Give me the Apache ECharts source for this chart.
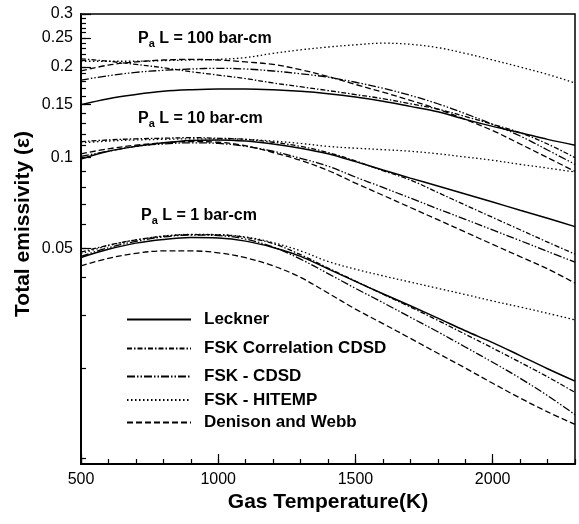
<!DOCTYPE html>
<html><head><meta charset="utf-8">
<script src="https://cdn.jsdelivr.net/npm/echarts@6/dist/echarts.min.js"></script>
<style>html,body{margin:0;padding:0;background:#fff}#c{width:579px;height:524px}</style>
</head><body><div id="c"></div>
<script>
// ---- data ----
const temps = [500,600,700,800,900,1000,1100,1200,1300,1400,1500,1600,1700,1800,1900,2000,2100,2200,2300];

// PaL = 100 bar-cm
const leckner100 = [0.150,0.157,0.162,0.166,0.168,0.169,0.169,0.168,0.166,0.163,0.159,0.154,0.148,0.142,0.134,0.127,0.121,0.115,0.110];
const corr100    = [0.213,0.209,0.204,0.199,0.193,0.188,0.183,0.177,0.172,0.167,0.162,0.157,0.151,0.145,0.137,0.129,0.121,0.111,0.100];
const cdsd100    = [0.181,0.187,0.192,0.195,0.197,0.198,0.197,0.194,0.190,0.185,0.178,0.170,0.161,0.151,0.140,0.129,0.118,0.106,0.095];
const hitemp100  = [0.209,0.209,0.209,0.210,0.211,0.212,0.215,0.222,0.228,0.233,0.237,0.240,0.238,0.232,0.222,0.211,0.200,0.189,0.177];
const dw100      = [0.194,0.203,0.208,0.211,0.212,0.211,0.208,0.204,0.196,0.186,0.175,0.165,0.155,0.145,0.134,0.123,0.111,0.100,0.090];

// PaL = 10 bar-cm
const leckner10 = [0.099,0.105,0.109,0.112,0.1140,0.1145,0.1135,0.111,0.1075,0.103,0.097,0.091,0.0855,0.0805,0.0757,0.0712,0.0669,0.0629,0.0590];
const corr10    = [0.113,0.1145,0.1155,0.116,0.1165,0.116,0.115,0.1125,0.109,0.104,0.0975,0.0905,0.0843,0.0766,0.0696,0.0633,0.0576,0.0524,0.0478];
const cdsd10    = [0.101,0.105,0.109,0.111,0.112,0.1115,0.109,0.105,0.0995,0.0937,0.0862,0.0796,0.0734,0.0676,0.0624,0.0575,0.0530,0.0488,0.0450];
const hitemp10  = [0.112,0.1135,0.1145,0.115,0.1155,0.1155,0.115,0.1135,0.1115,0.109,0.1075,0.1063,0.105,0.103,0.1005,0.098,0.095,0.0923,0.0896];
const dw10      = [0.103,0.107,0.110,0.112,0.113,0.1125,0.1095,0.104,0.098,0.0907,0.0823,0.0750,0.0683,0.0622,0.0566,0.0515,0.0469,0.0427,0.0383];

// PaL = 1 bar-cm
const leckner1 = [0.0466,0.0496,0.0520,0.0535,0.0543,0.0541,0.0528,0.0503,0.0470,0.0427,0.0388,0.0353,0.0322,0.0293,0.0266,0.0243,0.0220,0.0199,0.0181];
const corr1    = [0.0485,0.0512,0.0533,0.0548,0.0555,0.0554,0.0543,0.0518,0.0476,0.0430,0.0389,0.0352,0.0319,0.0288,0.0259,0.0233,0.0209,0.0187,0.0166];
const cdsd1    = [0.0470,0.0502,0.0527,0.0545,0.0553,0.0551,0.0536,0.0505,0.0460,0.0412,0.0368,0.0330,0.0295,0.0264,0.0235,0.0209,0.0185,0.0162,0.0140];
const hitemp1  = [0.0480,0.0510,0.0533,0.0549,0.0556,0.0555,0.0545,0.0522,0.0490,0.0452,0.0426,0.0405,0.0386,0.0368,0.0351,0.0334,0.0319,0.0304,0.0289];
const dw1      = [0.0437,0.0463,0.0481,0.0490,0.0490,0.0483,0.0465,0.0437,0.0400,0.0355,0.0314,0.0281,0.0251,0.0224,0.0200,0.0178,0.0159,0.0143,0.0130];

const seriesNames = ['Leckner','FSK Correlation CDSD','FSK - CDSD','FSK - HITEMP','Denison and Webb'];
const groupLabels = ['100 bar-cm','10 bar-cm','1 bar-cm'];

const yMajorTicks = [0.05,0.1,0.15,0.2,0.25,0.3];
const yMinorTicks = [0.01,0.02,0.03,0.04,0.05,0.06,0.07,0.08,0.09,0.1,0.11,0.12,0.13,0.14,0.15,0.16,0.17,0.18,0.19,0.2,0.21,0.22,0.23,0.24,0.25,0.26,0.27,0.28,0.29,0.3];
const xMajorTicks = [500,1000,1500,2000];

// ---- styling ----
const FONT = '"Liberation Sans", Arial, Helvetica, sans-serif';
const dashOf = {
  'Leckner': 'solid',
  'FSK Correlation CDSD': [5,2,1.5,2],
  'FSK - CDSD': [8,2,1.5,2,1.5,2],
  'FSK - HITEMP': [1.5,2.5],
  'Denison and Webb': [6,3]
};
const groups = [
  [leckner100, corr100, cdsd100, hitemp100, dw100],
  [leckner10, corr10, cdsd10, hitemp10, dw10],
  [leckner1, corr1, cdsd1, hitemp1, dw1]
];

const series = [];
groups.forEach(g => {
  g.forEach((vals, k) => {
    const name = seriesNames[k];
    series.push({
      name: name,
      type: 'line',
      xAxisIndex: 0, yAxisIndex: 0,
      data: temps.map((t, i) => [t, vals[i]]),
      smooth: 0.35,
      symbol: 'none',
      showSymbol: false,
      silent: true,
      itemStyle: {color: '#000'},
      lineStyle: {color: '#000', width: name === 'Leckner' ? 1.5 : 1.3, type: dashOf[name], cap: 'butt'},
      emphasis: {disabled: true}
    });
  });
});

const legendTops = [311, 340, 368, 391.5, 414];
const legends = seriesNames.map((n, i) => ({
  data: [n],
  left: 126, top: legendTops[i],
  padding: 0,
  orient: 'vertical',
  itemWidth: 64, itemHeight: 14,
  selectedMode: false,
  itemStyle: {opacity: 0},
  textStyle: {fontSize: 17, fontWeight: 'bold', color: '#000', fontFamily: FONT, padding: [0,0,0,8]}
}));

const rich = {
  p: {fontSize: 16, fontWeight: 'bold', fontFamily: FONT, fill: '#000', lineHeight: 20},
  s: {fontSize: 11, fontWeight: 'bold', fontFamily: FONT, fill: '#000', lineHeight: 12, verticalAlign: 'bottom', padding: [6,0,0,0]}
};
const annTops = [31, 111, 208];
const annLefts = [138, 138, 141];
const graphics = groupLabels.map((lab, i) => ({
  type: 'text', left: annLefts[i], top: annTops[i], silent: true,
  style: {text: '{p|P}{s|a}{p| L = ' + lab + '}', rich: rich}
}));
graphics.push({
  type: 'text', x: 23, y: 224, rotation: Math.PI / 2, silent: true,
  style: {text: 'Total emissivity (\u03b5)', align: 'center', verticalAlign: 'middle',
          fontSize: 21, fontWeight: 'bold', fontFamily: FONT, fill: '#000'}
});
graphics.push({
  type: 'text', x: 328, y: 502, silent: true,
  style: {text: 'Gas Temperature(K)', align: 'center', verticalAlign: 'middle',
          fontSize: 21, fontWeight: 'bold', fontFamily: FONT, fill: '#000'}
});

const chart = echarts.init(document.getElementById('c'), null, {renderer: 'canvas'});
chart.setOption({
  animation: false,
  backgroundColor: '#fff',
  textStyle: {fontFamily: FONT},
  grid: {left: 81, right: 4, top: 14, bottom: 60, show: true, borderColor: '#000', borderWidth: 1.5},
  legend: legends,
  graphic: graphics,
  xAxis: [
    {type: 'value', min: 500, max: 2300, position: 'bottom',
     axisLine: {show: true, lineStyle: {color: '#000', width: 2}},
     axisTick: {show: true, inside: true, length: 10, customValues: xMajorTicks, lineStyle: {color: '#000', width: 1.2}},
     axisLabel: {customValues: xMajorTicks, fontSize: 16, color: '#000', formatter: v => String(v)},
     splitLine: {show: false}},
    {type: 'value', min: 500, max: 2300, interval: 100, position: 'bottom',
     axisLine: {show: false},
     axisTick: {show: true, inside: true, length: 5, lineStyle: {color: '#000', width: 1.2}},
     axisLabel: {show: false}, splitLine: {show: false}}
  ],
  yAxis: [
    {type: 'log', min: 0.0096, max: 0.3, position: 'left',
     axisLine: {show: true, lineStyle: {color: '#000', width: 2}},
     axisTick: {show: true, inside: true, length: 10, customValues: yMajorTicks, lineStyle: {color: '#000', width: 1.2}},
     axisLabel: {customValues: yMajorTicks, fontSize: 16, color: '#000'},
     splitLine: {show: false}},
    {type: 'log', min: 0.0096, max: 0.3, position: 'left',
     axisLine: {show: false},
     axisTick: {show: true, inside: true, length: 5, customValues: yMinorTicks, lineStyle: {color: '#000', width: 1.2}},
     axisLabel: {show: false}, splitLine: {show: false}}
  ],
  series: series
});
</script>
</body></html>
